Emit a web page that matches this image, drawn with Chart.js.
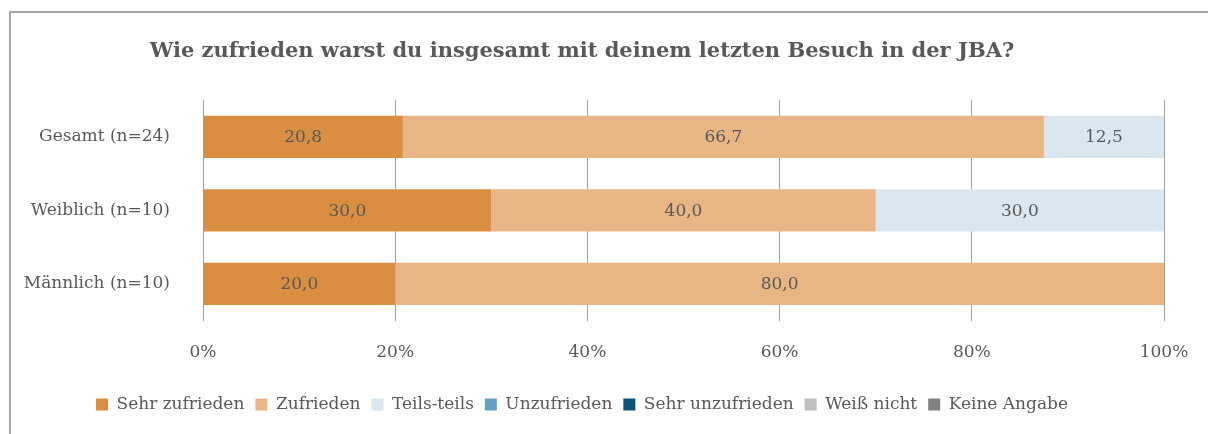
<!DOCTYPE html>
<html>
<head>
<meta charset="utf-8">
<script src="https://cdn.jsdelivr.net/npm/chart.js@4.4.1/dist/chart.umd.min.js"></script>
<style>
  html, body { margin: 0; padding: 0; background: #fff; }
  #wrap { position: relative; width: 1208px; height: 434px; overflow: hidden; }
  #frame { position: absolute; left: 9px; top: 11px; width: 1400px; height: 600px;
           border-top: 2px solid #a6a6a6; border-left: 2px solid #a6a6a6; box-sizing: border-box; }
  canvas { position: absolute; left: 0; top: 0; }
</style>
</head>
<body>
<div id="wrap">
  <div id="frame"></div>
  <canvas id="c" width="1208" height="434"></canvas>
</div>
<script>
const titleText = 'Wie zufrieden warst du insgesamt mit deinem letzten Besuch in der JBA?';
const categories = ['Gesamt (n=24)', 'Weiblich (n=10)', 'Männlich (n=10)'];
const seriesNames = ['Sehr zufrieden', 'Zufrieden', 'Teils-teils', 'Unzufrieden', 'Sehr unzufrieden', 'Weiß nicht', 'Keine Angabe'];
const sehrZufrieden   = [20.8, 30.0, 20.0];
const zufrieden       = [66.7, 40.0, 80.0];
const teilsTeils      = [12.5, 30.0, 0];
const unzufrieden     = [0, 0, 0];
const sehrUnzufrieden = [0, 0, 0];
const weissNicht      = [0, 0, 0];
const keineAngabe     = [0, 0, 0];
const seriesColors = ['#D98E41', '#E8B585', '#DAE7F1', '#64A0C1', '#0E5378', '#BFBFBF', '#808080'];
const xTicks = [0, 20, 40, 60, 80, 100];

const seriesValues = [sehrZufrieden, zufrieden, teilsTeils, unzufrieden, sehrUnzufrieden, weissNicht, keineAngabe];
const FONT = "'DejaVu Serif', serif";
const TXT = '#595959';
const FS = 17;

const dataLabels = {
  id: 'dataLabels',
  afterDatasetsDraw(chart) {
    const ctx = chart.ctx;
    ctx.save();
    ctx.font = FS + "px " + FONT;
    ctx.fillStyle = TXT;
    ctx.textAlign = 'center';
    ctx.textBaseline = 'middle';
    chart.data.datasets.forEach((ds, i) => {
      const meta = chart.getDatasetMeta(i);
      if (meta.hidden) return;
      meta.data.forEach((el, j) => {
        const v = ds.data[j];
        if (!v) return;
        const p = el.getCenterPoint();
        ctx.fillText(v.toFixed(1).replace('.', ','), p.x, p.y + 1);
      });
    });
    ctx.restore();
  }
};

new Chart(document.getElementById('c'), {
  type: 'bar',
  data: {
    labels: categories,
    datasets: seriesNames.map((n, i) => ({
      label: n,
      data: seriesValues[i],
      backgroundColor: seriesColors[i],
      borderWidth: 0,
      categoryPercentage: 1,
      barPercentage: 0.575
    }))
  },
  options: {
    indexAxis: 'y',
    responsive: false,
    animation: false,
    devicePixelRatio: 1,
    layout: { padding: { left: 0, right: 44, top: 0, bottom: 11 } },
    plugins: {
      title: {
        display: true, text: titleText, color: TXT,
        font: { family: FONT, size: 21, weight: 'bold' },
        padding: { top: 39, bottom: 36 }
      },
      legend: {
        position: 'bottom',
        labels: {
          color: TXT, font: { family: FONT, size: FS },
          boxWidth: 12, boxHeight: 12, padding: 11
        }
      },
      tooltip: { enabled: false }
    },
    scales: {
      x: {
        stacked: true, min: 0, max: 100,
        afterBuildTicks(s) { s.ticks = xTicks.map(v => ({ value: v })); },
        afterFit(s) { s.paddingRight = 0; s.paddingLeft = 0; },
        ticks: { callback: v => v + '%', color: TXT, font: { family: FONT, size: FS }, padding: 22, maxRotation: 0 },
        grid: { color: '#a0a0a0', lineWidth: 1, drawTicks: false },
        border: { display: false }
      },
      y: {
        stacked: true,
        afterFit(s) { s.width = 203; },
        ticks: { color: TXT, font: { family: FONT, size: FS }, padding: 25 },
        grid: { display: false },
        border: { display: false }
      }
    }
  },
  plugins: [dataLabels]
});
</script>
</body>
</html>
